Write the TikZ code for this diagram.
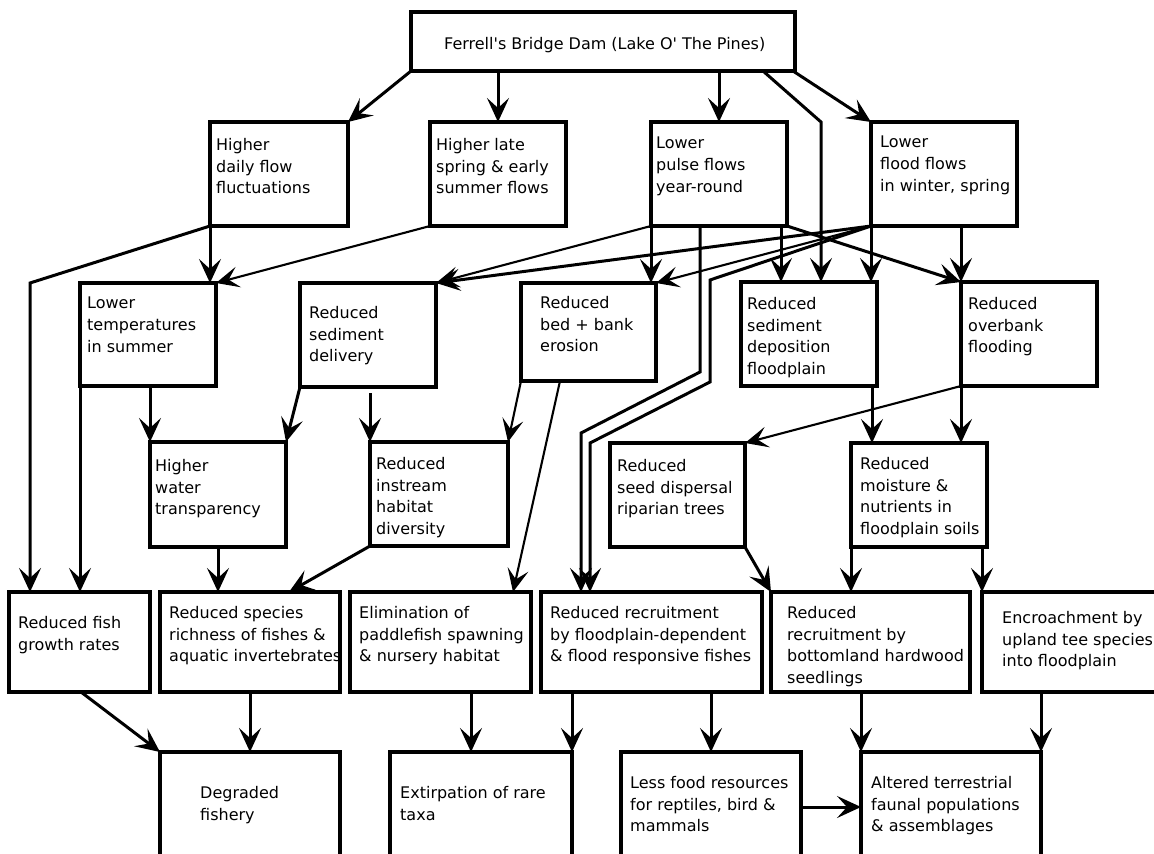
\documentclass[tikz,border=0pt]{standalone}
\usepackage{fontspec}
\newfontfamily\dvs{DejaVu Sans}
\usetikzlibrary{arrows.meta,calc}
\newcommand\mkbox[5]{\node[box,minimum width={(#4-#2)*1pt},minimum height={(#5-#3)*1pt}] (#1) at (#2,#3) {};}
\begin{document}
\begin{tikzpicture}[x=1pt,y=-1pt,
  box/.style={draw,line width=3.3pt,inner sep=0pt,outer sep=0pt,anchor=north west,rectangle},
  txt/.style={anchor=north west,inner sep=0pt,align=left,font=\dvs\fontsize{16}{21.8}\selectfont},
  con/.style={line width=3pt,-{Stealth[length=24pt,width=22pt,inset=10pt]}},
  thinarr/.style={line width=2.1pt,-{Stealth[length=23pt,width=21pt,inset=10pt]}},
]
\useasboundingbox (0,0) rectangle (1154,854);
\fill[white] (0,0) rectangle (1154,854);
\clip (0,0) rectangle (1154,854);

% boxes
\mkbox{dam}{411}{12}{795}{71}
\mkbox{hd}{210}{122}{348}{226}
\mkbox{hl}{430}{122}{566}{226}
\mkbox{lp}{651}{122}{787}{226}
\mkbox{lf}{871}{122}{1017}{226}
\mkbox{lt}{80}{283}{216}{386}
\mkbox{sd}{300}{283}{436}{387}
\mkbox{be}{521}{283}{656}{381}
\mkbox{dp}{741}{282}{877}{386}
\mkbox{ob}{961}{282}{1097}{386}
\mkbox{hw}{150}{442}{286}{547}
\mkbox{ih}{370}{442}{508}{546}
\mkbox{sp}{610}{443}{745}{547}
\mkbox{mo}{851}{443}{987}{547}
\mkbox{fg}{9}{592}{150}{692}
\mkbox{rs}{160}{592}{340}{692}
\mkbox{el}{350}{592}{531}{692}
\mkbox{rf}{541}{592}{762}{692}
\mkbox{bl}{771}{592}{970}{692}
\mkbox{en}{982}{592}{1162}{692}
\mkbox{df}{160}{752}{340}{862}
\mkbox{ex}{390}{752}{572}{862}
\mkbox{lfr}{621}{752}{801}{862}
\mkbox{al}{861}{752}{1041}{862}

% texts
\node[txt,anchor=base west] (damt) at (444,49) {Ferrell's Bridge Dam (Lake O' The Pines)};
\node[txt] (hdt) at (216,138) {Higher\\daily flow\\fluctuations};
\node[txt] (hlt) at (436,138) {Higher late\\spring \& early\\summer flows};
\node[txt] (lpt) at (656,137) {Lower\\pulse flows\\year-round};
\node[txt] (lft) at (880,136) {Lower\\flood flows\\in winter, spring};
\node[txt] (ltt) at (87,297) {Lower\\temperatures\\in summer};
\node[txt] (sdt) at (309,306) {Reduced\\sediment\\delivery};
\node[txt] (bet) at (540,296) {Reduced\\bed + bank\\erosion};
\node[txt] (dpt) at (747,297) {Reduced\\sediment\\deposition\\floodplain};
\node[txt] (obt) at (968,297) {Reduced\\overbank\\flooding};
\node[txt] (hwt) at (155,459) {Higher\\water\\transparency};
\node[txt] (iht) at (376,457) {Reduced\\instream\\habitat\\diversity};
\node[txt] (spt) at (617,459) {Reduced\\seed dispersal\\riparian trees};
\node[txt] (mot) at (860,457) {Reduced\\moisture \&\\nutrients in\\floodplain soils};
\node[txt] (fgt) at (18,616) {Reduced fish\\growth rates};
\node[txt] (rst) at (169,606) {Reduced species\\richness of fishes \&\\aquatic invertebrates};
\node[txt] (elt) at (359,606) {Elimination of\\paddlefish spawning\\\& nursery habitat};
\node[txt] (rft) at (550,606) {Reduced recruitment\\by floodplain-dependent\\\& flood responsive fishes};
\node[txt] (blt) at (787,606) {Reduced\\recruitment by\\bottomland hardwood\\seedlings};
\node[txt] (ent) at (1002,611) {Encroachment by\\upland tee species\\into floodplain};
\node[txt] (dft) at (200,786) {Degraded\\fishery};
\node[txt] (ext) at (400,786) {Extirpation of rare\\taxa};
\node[txt] (lfrt) at (630,776) {Less food resources\\for reptiles, bird \&\\mammals};
\node[txt] (alt) at (871,776) {Altered terrestrial\\faunal populations\\\& assemblages};

% connectors from the dam
\draw[con] (dam.south west) -- (hd.north east);
\draw[con] (dam.south -| hl.north) -- (hl.north);
\draw[con] (dam.south -| lp.north) -- (lp.north);
\draw[con] ($(dam.south east)+(-32,0)$) -- ($(dp.north west)+(80,-160)$) -- ($(dp.north west)+(80,0)$);
\draw[con] ($(dam.south east)+(-2,0)$) -- (lf.north west);

% second row outgoing
\draw[con] (hd.south west) -- (hd.south west |- lt.north);
\draw[con] (hd.south west) -- ($(fg.north west)+(21,-309)$) -- ($(fg.north west)+(21,0)$);
\draw[thinarr] (hl.south west) -- (lt.north east);
\draw[thinarr] (lp.south west) -- (sd.north east);
\draw[con] (lf.south west) -- (sd.north east);
\draw[con] (lp.south west) -- (lp.south west |- be.north);
\draw[thinarr] (lf.south west) -- (be.north east);
\draw[con] ($(lp.south west)+(49,0)$) -- ($(rf.north west)+(159,-220)$) -- ($(rf.north west)+(40,-159)$) -- ($(rf.north west)+(40,0)$);
\draw[con] (lf.south west) -- ($(rf.north west)+(169,-312)$) -- ($(rf.north west)+(169,-210)$) -- ($(rf.north west)+(49,-149)$) -- ($(rf.north west)+(49,0)$);
\draw[con] ($(lp.south east)+(-6,0)$) -- ($(dp.north west)+(40,0)$);
\draw[con] (lp.south east) -- (ob.north west);
\draw[con] (lf.south west) -- (lf.south west |- dp.north);
\draw[con] (lf.south -| ob.north west) -- (ob.north west);

% third row outgoing
\draw[con] (hw.north west |- lt.south) -- (hw.north west);
\draw[con] (lt.south west) -- (lt.south west |- fg.north);
\draw[con] (sd.south west) -- (hw.north east);
\draw[con] ($(sd.south west)+(70,6)$) -- (ih.north west);
\draw[thinarr] (be.south west) -- (ih.north east);
\draw[thinarr] ($(be.south west)+(39,0)$) -- ($(el.north west)+(163,0)$);
\draw[con] ($(dp.south east)+(-5,0)$) -- ($(mo.north west)+(21,0)$);
\draw[con] (ob.south west) -- (ob.south west |- mo.north);
\draw[thinarr] (ob.south west) -- (sp.north east);

% fourth row outgoing
\draw[con] (hw.south) -- (hw.south |- rs.north);
\draw[con] (ih.south west) -- ($(rs.north west)+(129,0)$);
\draw[con] (sp.south east) -- (bl.north west);
\draw[con] (mo.south west) -- (mo.south west |- bl.north);
\draw[con] (en.north west |- mo.south) -- (en.north west);

% fifth row outgoing
\draw[con] ($(fg.south west)+(72,0)$) -- (df.north west);
\draw[con] (rs.south) -- (df.north);
\draw[con] ($(el.south west)+(121,0)$) -- ($(ex.north west)+(81,0)$);
\draw[con] (ex.north east |- rf.south) -- (ex.north east);
\draw[con] (lfr.north |- rf.south) -- (lfr.north);
\draw[con] (al.north west |- bl.south) -- (al.north west);
\draw[con] (al.north east |- en.south) -- (al.north east);
\draw[con] (lfr.east) -- (al.west);
\end{tikzpicture}
\end{document}
